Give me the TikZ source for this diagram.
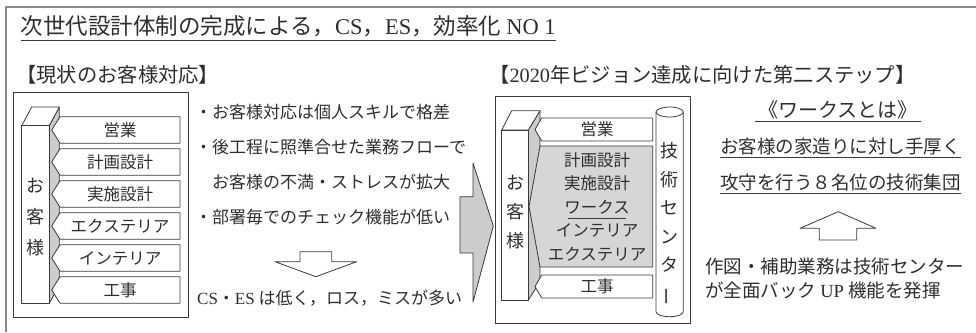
\documentclass[tikz,border=0pt]{standalone}
\usepackage{fontspec}
\usepackage{graphicx}
\setmainfont{Noto Sans CJK JP}
\newfontfamily\latf{Liberation Serif}
\newcommand\La[1]{{\latf #1}}
\definecolor{linec}{HTML}{3A3A3A}
\definecolor{textc}{HTML}{2E2E2E}
\definecolor{framec}{HTML}{8A8A8A}
\definecolor{sidec}{HTML}{CCCCCC}
\definecolor{boxc}{HTML}{D6D6D6}
\begin{document}
\begin{tikzpicture}[x=1pt,y=-1pt,line join=round,
  ln/.style={draw=linec,line width=0.8pt},
  tabst/.style={ln,fill=white},
  txt/.style={inner sep=0pt,text=textc},
  fT/.style={font=\fontsize{22.5}{26}\selectfont},
  fH/.style={font=\fontsize{20.3}{23}\selectfont},
  fB/.style={font=\fontsize{17}{20}\selectfont},
  fR/.style={font=\fontsize{18.5}{22}\selectfont},
  fTab/.style={font=\fontsize{16.5}{20}\selectfont},
  ul/.style={draw=linec,line width=0.8pt}]
\useasboundingbox (0,0) rectangle (976,332);
% outer frame (cut at right and bottom)
\draw[draw=framec,line width=2pt] (6,332) -- (6,6.5) -- (976,6.5);

% title
\node[txt,fT,anchor=west] (title) at (20.5,26.5) {次世代設計体制の完成による，\La{CS}，\La{ES}，効率化 \La{NO 1}};
\draw[ul] ([yshift=-3pt]title.south west) -- ([yshift=-3pt]title.south east);

% headers
\node[txt,fH,anchor=west] (h1) at (16,75) {【現状のお客様対応】};
\node[txt,fH,anchor=west] (h2) at (489,75) {【\La{2020}年ビジョン達成に向けた第二ステップ】};

% ---------- left box ----------
\draw[ln] (13.5,92) rectangle (188,317);
% pillar
\draw[ln,fill=sidec] (49.3,125.7) -- (59.3,107) -- (59.3,285) -- (49.3,303.3) -- cycle;
\draw[ln,fill=white] (21.7,125.7) -- (31.7,107) -- (59.3,107) -- (49.3,125.7) -- cycle;
\draw[ln,fill=white] (21.7,125.7) rectangle (49.3,303.3);
\node[txt,font=\fontsize{18}{31}\selectfont,align=center] (cust1) at (35.5,217) {お\\客\\様};
% tabs
\foreach \t/\lbl [count=\i] in {116.7/営業,148.7/計画設計,180.7/実施設計,212.7/エクステリア,244.7/インテリア,276.7/工事}{
  \draw[tabst] (60,\t) -- (180,\t) -- (180,{\t+26.5}) -- (60,{\t+26.5}) -- (51.7,{\t+13.25}) -- cycle;
  \node[txt,fTab] (lt\i) at (120,{\t+13.5}) {\lbl};
}

% bullets
\node[txt,fB,anchor=west] (b1) at (195,111.7) {・お客様対応は個人スキルで格差};
\node[txt,fB,anchor=west] (b2) at (195,146.7) {・後工程に照準合せた業務フローで};
\node[txt,fB,anchor=west] (b3) at (195,181.7) {　お客様の不満・ストレスが拡大};
\node[txt,fB,anchor=west] (b4) at (195,216.7) {・部署毎でのチェック機能が低い};
\node[txt,fB,anchor=west] (b5) at (197,298) {\La{CS}・\La{ES} は低く，ロス，ミスが多い};

% down arrow (hollow)
\draw[ln,fill=white] (300,251.7) -- (331.7,251.7) -- (331.7,261.7) -- (356.7,261.7) -- (315.8,276.7) -- (275,261.7) -- (300,261.7) -- cycle;

% big gray arrow
\draw[ln,fill=sidec] (460,196.7) -- (473,196.7) -- (473,163) -- (493.3,226) -- (473,302) -- (473,253) -- (460,253) -- cycle;

% ---------- right box ----------
\draw[ln] (495,96) rectangle (690.7,323);
% pillar
\draw[ln,fill=sidec] (528.3,130) -- (540,110.7) -- (540,282) -- (528.3,300) -- cycle;
\draw[ln,fill=white] (501.7,130) -- (511.7,110.7) -- (540,110.7) -- (528.3,130) -- cycle;
\draw[ln,fill=white] (501.7,130) rectangle (528.3,300);
\node[txt,font=\fontsize{18}{29}\selectfont,align=center] (cust2) at (515,212) {お\\客\\様};
% tabs
\draw[tabst] (541.7,118) -- (652.7,118) -- (652.7,141) -- (541.7,141) -- (535,129.5) -- cycle;
\node[txt,fTab] (rt1) at (597,129.5) {営業};
\draw[ln,fill=boxc] (540,146) -- (652.7,146) -- (652.7,267) -- (540,267) -- (529,206.5) -- cycle;
\node[txt,fTab,align=center,font=\fontsize{16.5}{23.5}\selectfont] (works) at (597,206.5) {計画設計\\実施設計\\ワークス\\インテリア\\エクステリア};
\draw[tabst] (541.7,275) -- (652.7,275) -- (652.7,298) -- (541.7,298) -- (535,286.5) -- cycle;
\node[txt,fTab] (rt2) at (597,286.5) {工事};
% underline of ワークス
\draw[draw=linec,line width=0.6pt] (568,218) -- (626,218);
% cylinder
\draw[ln,fill=white] (656,112) -- (656,311.7) arc[start angle=180,end angle=360,x radius=13.65,y radius=-5] -- (683.3,112);
\draw[ln,fill=white] (669.65,112) ellipse[x radius=13.65,y radius=5];
\node[txt,font=\fontsize{18}{28.5}\selectfont,align=center] (center) at (669.65,224) {技\\術\\セ\\ン\\タ\\\rotatebox[origin=c]{90}{ー}};

% ---------- right texts ----------
\node[txt,font=\fontsize{20}{24}\selectfont] (wk) at (838,110) {《ワークスとは》};
\draw[ul] (755,121) -- (921,121);
\node[txt,fR,anchor=west] (r1) at (720,146) {お客様の家造りに対し手厚く};
\draw[ul] ([yshift=-2.5pt]r1.south west) -- ([yshift=-2.5pt]r1.south east);
\node[txt,fR,anchor=west] (r2) at (720,182) {攻守を行う８名位の技術集団};
\draw[ul] ([yshift=-2.5pt]r2.south west) -- ([yshift=-2.5pt]r2.south east);
% up arrow (hollow)
\draw[ln,fill=white] (819.3,240) -- (856.7,240) -- (856.7,228.3) -- (876,228.3) -- (838.3,211.7) -- (800,228.3) -- (819.3,228.3) -- cycle;
\node[txt,fR,anchor=west] (r3) at (705,266) {作図・補助業務は技術センター};
\node[txt,fR,anchor=west] (r4) at (705,290) {が全面バック \La{UP} 機能を発揮};
\end{tikzpicture}
\end{document}
